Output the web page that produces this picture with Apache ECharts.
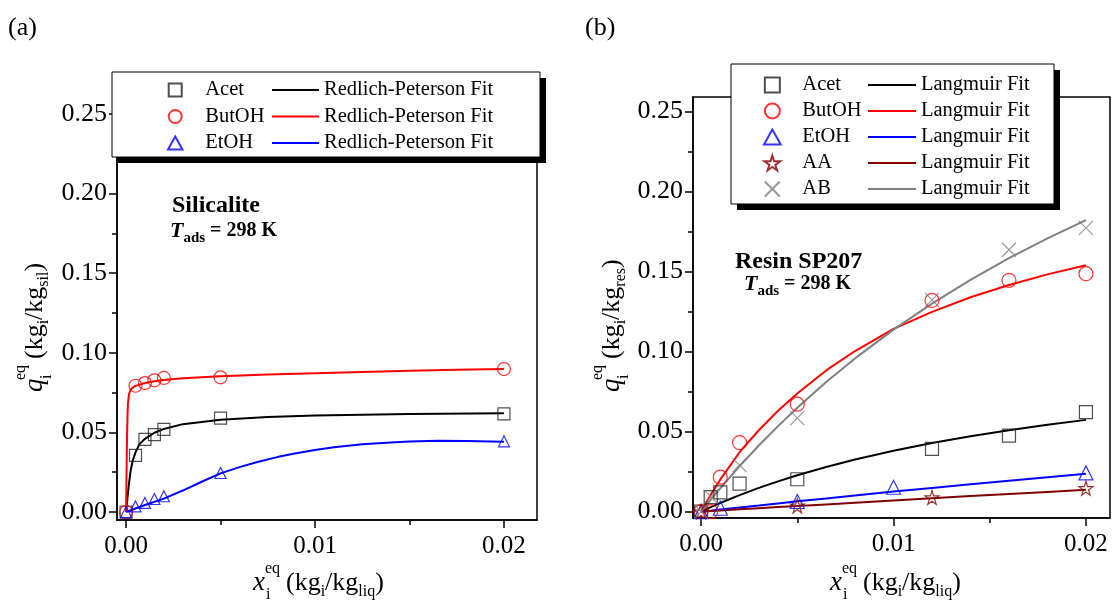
<!DOCTYPE html>
<html>
<head>
<meta charset="utf-8">
<title>Adsorption isotherms</title>
<script src="https://cdn.jsdelivr.net/npm/echarts@6/dist/echarts.min.js"></script>
<style>
  html, body { margin: 0; padding: 0; background: #fff; }
  #chart { width: 1115px; height: 607px; }
</style>
</head>
<body>
<div id="chart"></div>
<script>
const FONT = '"Liberation Serif", "Times New Roman", serif'

// ticks
const xTicks = [0, 0.01, 0.02]
const xTickLabels = ['0.00', '0.01', '0.02']
const xMinorTicks = [0.005, 0.015]
const yTicks = [0, 0.05, 0.1, 0.15, 0.2, 0.25]
const yTickLabels = ['0.00', '0.05', '0.10', '0.15', '0.20', '0.25']
const yMinorTicks = [0.025, 0.075, 0.125, 0.175, 0.225]

// (a) silicalite - measured
const xSil = [0, 0.0005, 0.001, 0.0015, 0.002, 0.005, 0.02]
const acetSil = [0, 0.0356, 0.0456, 0.0486, 0.0519, 0.059, 0.0617]
const butSil = [0, 0.0793, 0.081, 0.0827, 0.0842, 0.0846, 0.0898]
const etSil = [0, 0.0035, 0.0057, 0.0082, 0.0099, 0.0245, 0.0444]

// (a) Redlich-Peterson fits
const butFitX = [0, 0.00002, 0.00004, 0.00006, 0.00008, 0.0001, 0.00015, 0.0002, 0.0003, 0.0005, 0.001, 0.0015, 0.002, 0.003, 0.005, 0.0075, 0.01, 0.0125, 0.015, 0.0175, 0.02]
const butFitY = [0, 0.02, 0.038, 0.052, 0.062, 0.068, 0.0735, 0.0757, 0.0777, 0.0792, 0.081, 0.0821, 0.0829, 0.084, 0.0852, 0.0863, 0.0872, 0.088, 0.0887, 0.0893, 0.0898]
const acetFitX = [0, 0.00005, 0.0001, 0.00015, 0.00025, 0.00035, 0.0005, 0.0007, 0.001, 0.0015, 0.002, 0.003, 0.005, 0.0075, 0.01, 0.015, 0.02]
const acetFitY = [0, 0.006, 0.012, 0.0175, 0.0266, 0.0322, 0.0375, 0.0425, 0.046, 0.0498, 0.0522, 0.0552, 0.058, 0.0597, 0.0606, 0.0615, 0.0621]
const etFitX = [0, 0.0005, 0.001, 0.0015, 0.002, 0.003, 0.004, 0.005, 0.006, 0.007, 0.008, 0.009, 0.01, 0.011, 0.0125, 0.014, 0.015, 0.0165, 0.018, 0.02]
const etFitY = [0, 0.0022, 0.0044, 0.0064, 0.0084, 0.0135, 0.019, 0.0243, 0.0282, 0.0316, 0.0345, 0.0369, 0.039, 0.0407, 0.0425, 0.0437, 0.0443, 0.0447, 0.0446, 0.0442]

// (b) resin SP207 - measured
const acetResX = [0, 0.0005, 0.001, 0.002, 0.005, 0.012, 0.016, 0.02]
const acetRes = [0, 0.009, 0.012, 0.0175, 0.0202, 0.0392, 0.0475, 0.0621]
const butResX = [0, 0.0005, 0.001, 0.002, 0.005, 0.012, 0.016, 0.02]
const butRes = [0, 0.0, 0.0215, 0.0431, 0.0671, 0.1319, 0.1445, 0.1486]
const etResX = [0, 0.001, 0.005, 0.01, 0.02]
const etRes = [0, 0.0021, 0.0063, 0.0152, 0.0242]
const aaResX = [0, 0.005, 0.012, 0.02]
const aaRes = [0, 0.0036, 0.0088, 0.0146]
const abResX = [0, 0.0005, 0.002, 0.005, 0.012, 0.016, 0.02]
const abRes = [0, 0.0094, 0.029, 0.0584, 0.1323, 0.1636, 0.1772]

// (b) Langmuir fits
const lfX = [0, 0.0005, 0.001, 0.002, 0.003, 0.004, 0.005, 0.0065, 0.008, 0.01, 0.012, 0.014, 0.016, 0.018, 0.02]
const acetLf = [0, 0.0028, 0.0054, 0.0103, 0.0148, 0.0189, 0.0227, 0.0279, 0.0325, 0.038, 0.0428, 0.0471, 0.0508, 0.0542, 0.0573]
const butLf = [0, 0.0105, 0.0201, 0.0371, 0.0508, 0.063, 0.0738, 0.0882, 0.1003, 0.1141, 0.1248, 0.1339, 0.1416, 0.1482, 0.1539]
const etLf = [0, 0.0006, 0.0013, 0.0026, 0.0038, 0.0051, 0.0064, 0.0082, 0.0101, 0.0125, 0.0148, 0.0171, 0.0193, 0.0215, 0.0236]
const aaLf = [0, 0.0004, 0.0007, 0.0014, 0.0021, 0.0028, 0.0035, 0.0045, 0.0055, 0.0069, 0.0083, 0.0097, 0.011, 0.0123, 0.0136]
const abLf = [0, 0.0074, 0.0146, 0.0284, 0.0413, 0.0534, 0.0649, 0.0809, 0.0957, 0.1137, 0.1299, 0.1447, 0.1583, 0.1707, 0.1821]

// path symbols keep their aspect in the legend
const SQUARE = 'path://M0,0H10V10H0Z'
const CIRCLE = 'path://M10,5A5,5,0,1,1,0,5A5,5,0,1,1,10,5Z'
const TRIANGLE = 'path://M5,0L10,9L0,9Z'
const STAR = 'path://M50,0L61,35L98,35L68,57L79,91L50,70L21,91L32,57L2,35L39,35Z'
const CROSS = 'path://M0,0L10,10M10,0L0,10'
const DASH = 'path://M0,0H100V4H0Z'

function pairs(xs, ys) {
  return xs.map((x, i) => [x, ys[i]])
}

function tickLabel(values, labels) {
  return v => {
    const i = values.findIndex(t => Math.abs(t - v) < 1e-9)
    return i < 0 ? '' : labels[i]
  }
}

function xAxes(grid, min, max) {
  return [{
    gridIndex: grid, type: 'value', position: 'bottom', min, max,
    axisLine: { onZero: false, lineStyle: { color: '#000', width: 1.5 } },
    axisTick: { customValues: xTicks, length: 8, lineStyle: { color: '#000', width: 1.5 } },
    axisLabel: { customValues: xTicks, formatter: tickLabel(xTicks, xTickLabels), margin: 14, fontSize: 25, fontFamily: FONT, color: '#000' },
    splitLine: { show: false }
  }, {
    gridIndex: grid, type: 'value', position: 'bottom', min, max,
    axisLine: { show: false, onZero: false }, axisLabel: { show: false }, splitLine: { show: false },
    axisTick: { customValues: xMinorTicks, length: 5, lineStyle: { color: '#000', width: 1.5 } }
  }]
}

function yAxes(grid, min, max) {
  return [{
    gridIndex: grid, type: 'value', position: 'left', min, max,
    axisLine: { onZero: false, lineStyle: { color: '#000', width: 1.5 } },
    axisTick: { customValues: yTicks, length: 8, lineStyle: { color: '#000', width: 1.5 } },
    axisLabel: { customValues: yTicks, formatter: tickLabel(yTicks, yTickLabels), margin: 10, fontSize: 26, fontFamily: FONT, color: '#000' },
    splitLine: { show: false }
  }, {
    gridIndex: grid, type: 'value', position: 'left', min, max,
    axisLine: { show: false, onZero: false }, axisLabel: { show: false }, splitLine: { show: false },
    axisTick: { customValues: yMinorTicks, length: 5, lineStyle: { color: '#000', width: 1.5 } }
  }]
}

function points(name, axis, xs, ys, symbol, size, color) {
  return {
    name, type: 'scatter', xAxisIndex: axis, yAxisIndex: axis, z: 4,
    symbol, symbolSize: size,
    itemStyle: { color: 'transparent', borderColor: color, borderWidth: 1.2 },
    data: pairs(xs, ys)
  }
}

function fit(name, axis, xs, ys, color) {
  return {
    name, type: 'line', xAxisIndex: axis, yAxisIndex: axis, z: 3,
    symbol: 'none', smooth: false,
    itemStyle: { color, borderWidth: 0 },
    lineStyle: { color, width: 2 },
    data: pairs(xs, ys)
  }
}

function legend(opt) {
  return Object.assign({
    orient: 'vertical', padding: 0, z: 20, selectedMode: false, symbolKeepAspect: true,
    textStyle: { fontFamily: FONT, fontSize: 20.5, color: '#000', lineHeight: 22 }
  }, opt)
}

function lineItems(names) {
  return names.map(name => ({ name, icon: DASH }))
}

function txt(x, y, text, font, extra) {
  return {
    type: 'text', x, y, z: 30,
    style: Object.assign({ text, font, fill: '#000', textAlign: 'left', verticalAlign: 'middle' }, extra || {})
  }
}

// q^eq_i / x^eq_i style axis titles
function axisTitle(x, y, rotation, letter, unitSub) {
  return {
    type: 'group', x, y, rotation, z: 30,
    children: [
      txt(0, 0, letter, 'italic 27px ' + FONT),
      txt(12, -14, 'eq', '16px ' + FONT),
      txt(13, 12, 'i', '16px ' + FONT),
      txt(33, 0, '(kg{s|i}/kg{s|' + unitSub + '})', '26px ' + FONT, {
        lineHeight: 34,
        rich: { s: { fontSize: 16, fontFamily: FONT, verticalAlign: 'bottom', lineHeight: 16 } }
      })
    ]
  }
}

function tads(x, y) {
  return txt(x, y, '{t|T}{s|ads}{m| = 298 K}', 'bold 20px ' + FONT, {
    rich: {
      t: { fontSize: 22, fontStyle: 'italic', fontWeight: 'bold', fontFamily: FONT, lineHeight: 30 },
      s: { fontSize: 15, fontWeight: 'bold', fontFamily: FONT, verticalAlign: 'bottom', lineHeight: 15 },
      m: { fontSize: 20, fontWeight: 'bold', fontFamily: FONT, lineHeight: 30 }
    }
  })
}

function box(x, y, w, h) {
  return [
    { type: 'rect', z: 10, shape: { x: x + 6, y: y + 6, width: w, height: h }, style: { fill: '#000' } },
    { type: 'rect', z: 11, shape: { x, y, width: w, height: h }, style: { fill: '#fff', stroke: '#000', lineWidth: 1 } }
  ]
}

const chart = echarts.init(document.getElementById('chart'))
chart.setOption({
  animation: false,
  backgroundColor: '#fff',
  grid: [
    { left: 117, right: 578, top: 98, bottom: 87, show: true, borderColor: '#000', borderWidth: 1.5, backgroundColor: 'transparent', outerBoundsMode: 'none' },
    { left: 693, right: 5, top: 97, bottom: 89, show: true, borderColor: '#000', borderWidth: 1.5, backgroundColor: 'transparent', outerBoundsMode: 'none' }
  ],
  xAxis: [...xAxes(0, -0.00048, 0.02175), ...xAxes(1, -0.00042, 0.02125)],
  yAxis: [...yAxes(0, -0.005, 0.26), ...yAxes(1, -0.004, 0.259)],
  legend: [
    legend({ left: 167, top: 79, itemWidth: 50, itemHeight: 13, itemGap: 4.5, data: ['Acet', 'ButOH', 'EtOH'] }),
    legend({ left: 272, top: 79, itemWidth: 47, itemHeight: 13, itemGap: 4.5, data: lineItems(['Acet RP', 'ButOH RP', 'EtOH RP']), formatter: () => 'Redlich-Peterson Fit' }),
    legend({ left: 763, top: 74, itemWidth: 50, itemHeight: 15, itemGap: 4, data: ['Acet (b)', 'ButOH (b)', 'EtOH (b)', 'AA (b)', 'AB (b)'], formatter: n => n.replace(' (b)', '') }),
    legend({ left: 868, top: 74, itemWidth: 48, itemHeight: 15, itemGap: 4, data: lineItems(['Acet L', 'ButOH L', 'EtOH L', 'AA L', 'AB L']), formatter: () => 'Langmuir Fit' })
  ],
  graphic: [
    ...box(112, 72, 428, 85),
    ...box(731, 64, 323, 140),
    txt(8, 28, '(a)', '26px ' + FONT),
    txt(585, 28, '(b)', '26px ' + FONT),
    txt(172, 206, 'Silicalite', 'bold 24px ' + FONT),
    tads(170, 231),
    txt(735, 262, 'Resin SP207', 'bold 24px ' + FONT),
    tads(744, 284),
    axisTitle(253, 583, 0, 'x', 'liq'),
    axisTitle(830, 583, 0, 'x', 'liq'),
    axisTitle(35, 392, Math.PI / 2, 'q', 'sil'),
    axisTitle(612, 392, Math.PI / 2, 'q', 'res')
  ],
  series: [
    fit('Acet RP', 0, acetFitX, acetFitY, '#000'),
    fit('ButOH RP', 0, butFitX, butFitY, '#ff0000'),
    fit('EtOH RP', 0, etFitX, etFitY, '#0000ff'),
    points('Acet', 0, xSil, acetSil, SQUARE, 12, '#222'),
    points('ButOH', 0, xSil, butSil, CIRCLE, 13, '#ff0000'),
    points('EtOH', 0, xSil, etSil, TRIANGLE, 11, '#0000ff'),

    fit('Acet L', 2, lfX, acetLf, '#000'),
    fit('ButOH L', 2, lfX, butLf, '#ff0000'),
    fit('EtOH L', 2, lfX, etLf, '#0000ff'),
    fit('AA L', 2, lfX, aaLf, '#800000'),
    fit('AB L', 2, lfX, abLf, '#808080'),
    points('Acet (b)', 2, acetResX, acetRes, SQUARE, 13, '#222'),
    points('ButOH (b)', 2, butResX, butRes, CIRCLE, 14, '#ff0000'),
    points('EtOH (b)', 2, etResX, etRes, TRIANGLE, 14, '#0000ff'),
    points('AA (b)', 2, aaResX, aaRes, STAR, 14, '#800000'),
    points('AB (b)', 2, abResX, abRes, CROSS, 14, '#808080')
  ]
})
</script>
</body>
</html>
